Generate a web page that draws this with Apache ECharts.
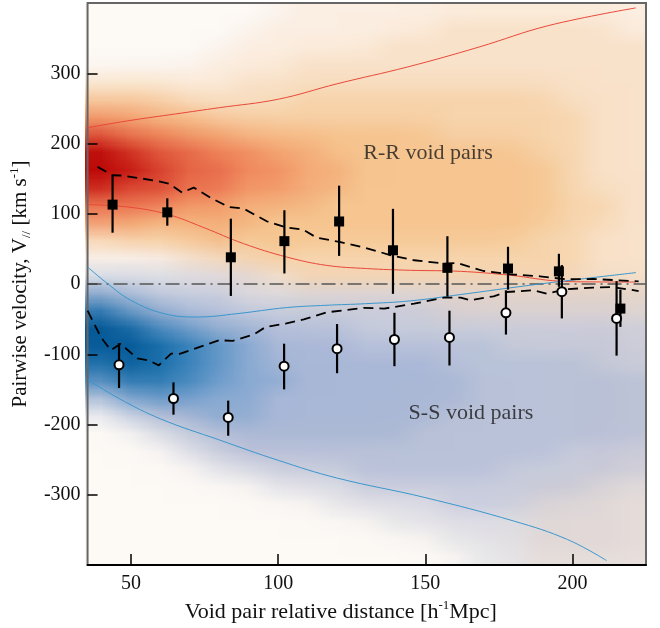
<!DOCTYPE html>
<html>
<head>
<meta charset="utf-8">
<script src="https://cdn.jsdelivr.net/npm/echarts@6/dist/echarts.min.js"></script>
<style>
  html, body { margin: 0; padding: 0; background: #fff; }
  #wrap { position: relative; width: 660px; height: 628px; }
  /* density map: one pixel per cell, scaled up so the browser smooths it */
  #heat { position: absolute; left: 85px; top: 3px; width: 19px; height: 32px;
          transform-origin: 0 0; transform: scale(29.526, 17.5625); }
  #main { position: absolute; left: 0; top: 0; width: 660px; height: 628px; }
</style>
</head>
<body>
<div id="wrap">
  <div id="heat"></div>
  <div id="main"></div>
</div>
<script>
// measured points
const rrX  = [43.7, 62.3, 83.9, 102.1, 120.7, 139.0, 157.5, 178.1, 195.4, 216.3];
const rrV  = [113, 102, 38, 61, 89, 48, 23, 22, 18, -35];
const rrLo = [73, 83, -17, 15, 40, -14, -18, -8, -4, -61];
const rrHi = [154, 122, 93, 105, 140, 107, 68, 53, 43, -8];

const ssX  = [45.9, 64.4, 83.0, 102.0, 120.0, 139.5, 158.2, 177.4, 196.4, 215.0];
const ssV  = [-115, -163, -190, -117, -92, -79, -76, -41, -11, -49];
const ssLo = [-148, -186, -216, -150, -127, -117, -116, -72, -49, -102];
const ssHi = [-84, -140, -166, -85, -57, -41, -38, -9, 27, 4];

// simulation curves
const rrMean = [[38.6,166.7],[43.7,154.8],[47.1,154.4],[58.9,146.7],[62.8,143],[67.3,130.2],[71.3,137.3],
  [76.9,123.1],[83.1,109.7],[88.2,107.4],[96.1,89.3],[102.8,80.3],[108.4,77.5],[113,66.1],[120.8,59.8],
  [129.8,51.3],[138.3,40.9],[146.2,33.8],[156.3,29.1],[160.8,29.9],[169.8,18.5],[178.8,13.8],[188.9,11],
  [197.9,6.7],[206.9,7.1],[222.5,3.8]];
const ssMean = [[35.2,-38],[39.7,-75.5],[43.1,-94.4],[46.4,-85],[52.1,-106],[56,-108.7],[59.4,-115.8],
  [63.6,-99],[66.2,-100],[80,-80],[84.5,-81],[91.8,-71.6],[95.8,-61],[102.5,-56.4],[108.7,-50.5],
  [116.6,-40.3],[129,-33.9],[136,-35],[146.2,-28],[156.3,-19.4],[162,-19.4],[165.3,-23.2],[173.2,-17.5],
  [177.7,-11.4],[186.7,-9],[191.2,-13.7],[197.9,-7.5],[206.9,-5.1],[213.7,-4.3],[222.5,-10]];
const rrUpper = [[35.2,222.5],[50,233],[65,242],[80,251],[100,263],[120,285],[144,309],[168,337],[192,368],[221.5,393]];
const rrLower = [[35.2,113],[48.8,109.7],[62.3,99.3],[74.7,80.3],[88.2,57.5],[102.8,38.5],[116.3,26.6],
  [130,22],[145,19.5],[162,18],[179,12.4],[195.7,4],[207,3],[221.6,2.8]];
const ssUpper = [[35.2,24.2],[42,0.5],[49.9,-23.2],[61.2,-42.2],[72.5,-47],[86,-42.2],[102.8,-33.6],
  [116.3,-30.3],[129.8,-28],[145,-24],[162,-15],[178.8,-5.5],[195.7,3.5],[221.6,16.2]];
const ssLower = [[35.2,-136],[45.9,-163],[60,-192],[80,-222],[100,-251],[119.8,-276],[149.9,-304],
  [180.2,-337.6],[198.3,-363.7],[211.6,-393.6]];

const xTicks = [50, 100, 150, 200];
const yTicks = [-300, -200, -100, 0, 100, 200, 300];
const notes = [[150.9, 186, 'R-R void pairs'], [165.5, -184, 'S-S void pairs']];

// density cells, level 0-9, rows from top (y=387.5) to bottom (y=-387.5)
const heatX = [40, 50, 60, 70, 80, 90, 100, 110, 120, 130, 140, 150, 160, 170, 180, 190, 200, 210, 220];
const heatY = [387.5, 362.5, 337.5, 312.5, 287.5, 262.5, 237.5, 212.5, 187.5, 162.5, 137.5, 112.5, 87.5,
  62.5, 37.5, 12.5, -12.5, -37.5, -62.5, -87.5, -112.5, -137.5, -162.5, -187.5, -212.5, -237.5, -262.5,
  -287.5, -312.5, -337.5, -362.5, -387.5];
const rrDensity = [
  '0000000111111111111',
  '0000001111112222221',
  '0000011111222222222',
  '0000111222222222222',
  '1111122222222222222',
  '3332222333333333222',
  '5544333333333333322',
  '7665544444443333322',
  '9877665544444443322',
  '9987766554444444322',
  '9887766554444444322',
  '7776655544444444332',
  '6655554444444444332',
  '3444544444444443322',
  '1112334333333333322',
  '0001122333333333322',
  '0000011222222222222',
  '0000000111112222222',
  '0000000000011111111',
  '0000000000000011111',
  '0000000000000000111',
  '0000000000000000011',
  '0000000000000000011',
  '0000000000000000011',
  '0000000000000000011',
  '0000000000000000011',
  '0000000000000000011',
  '0000000000000001111',
  '0000000000000001111',
  '0000000000000001111',
  '0000000000000001111',
  '0000000000000001111'
];
const ssDensity = [
  '0000000000000000000',
  '0000000000000000000',
  '0000000000000000000',
  '0000000000000000000',
  '0000000000000000000',
  '0000000000000000000',
  '0000000000000000000',
  '0000000000000000000',
  '0000000000000000000',
  '0000000000000000000',
  '0000000000000000000',
  '0000000000000000000',
  '0000000000000000000',
  '0000000000000000000',
  '0000000000000000000',
  '1111110000000000000',
  '4322211111111111111',
  '7543322222221111111',
  '9865443332222222222',
  '9987654443333322222',
  '8987654444443333322',
  '6887655444444333333',
  '2566554444444333333',
  '0134554444443333333',
  '0012344444433333333',
  '0001233333333333222',
  '0000112223333322222',
  '0000001112222222211',
  '0000000011112221111',
  '0000000000111111111',
  '0000000000001111111',
  '0000000000000111111'
];

const rrColors = ['#fdfaf6', '#fbefe2', '#f9e2ca', '#f7d4ae', '#f6c590', '#f4ad78', '#f18f60', '#e66848', '#d43a2a', '#bc0a0a'];
const ssColors = ['rgba(184,188,212,0)', 'rgba(184,188,212,0.2)', 'rgba(182,188,212,0.45)', 'rgba(180,188,214,0.7)',
  'rgba(170,184,214,0.9)', '#88abd2', '#5c94c6', '#3680b8', '#166ca8', '#065894'];

function toCells(rows) {
  const cells = [];
  rows.forEach(function (row, i) {
    const r = rows.length - 1 - i;
    for (let c = 0; c < row.length; c++) cells.push([c, r, +row[c]]);
  });
  return cells;
}

const heat = echarts.init(document.getElementById('heat'));
heat.setOption({
  animation: false,
  grid: { left: 0, right: 0, top: 0, bottom: 0 },
  xAxis: { type: 'category', data: heatX, show: false },
  yAxis: { type: 'category', data: heatY.slice().reverse(), show: false },
  visualMap: [
    { type: 'continuous', min: 0, max: 9, seriesIndex: 0, show: false, inRange: { color: rrColors } },
    { type: 'continuous', min: 0, max: 9, seriesIndex: 1, show: false, inRange: { color: ssColors } }
  ],
  series: [
    { type: 'heatmap', data: toCells(rrDensity) },
    { type: 'heatmap', data: toCells(ssDensity) }
  ]
});

const serif = "'Liberation Serif', 'DejaVu Serif', serif";
const ink = '#111';

function curve(data, color) {
  return { type: 'line', data: data, symbol: 'none', smooth: 0.4, z: 2,
    lineStyle: { color: color, width: 1 } };
}
function dashed(data) {
  return { type: 'line', data: data, symbol: 'none', z: 3,
    lineStyle: { color: '#000', width: 1.8, type: [10, 6] } };
}
function errBars(xs, lo, hi) {
  return {
    type: 'custom', z: 4,
    data: xs.map(function (x, i) { return [x, lo[i], hi[i]]; }),
    encode: { x: 0, y: [1, 2] },
    renderItem: function (params, api) {
      const a = api.coord([api.value(0), api.value(1)]);
      const b = api.coord([api.value(0), api.value(2)]);
      return { type: 'line', shape: { x1: a[0], y1: a[1], x2: b[0], y2: b[1] },
        style: { stroke: '#000', lineWidth: 2.2 } };
    }
  };
}

const main = echarts.init(document.getElementById('main'));
main.setOption({
  backgroundColor: 'transparent',
  animation: false,
  grid: { left: 85, right: 14, top: 3, bottom: 63, show: true, borderColor: '#666', borderWidth: 2 },
  xAxis: {
    type: 'value', min: 35.2, max: 225,
    axisLine: { show: true, onZero: false, lineStyle: { color: '#000', width: 2 } },
    axisTick: { show: true, inside: true, length: 11, customValues: xTicks, lineStyle: { color: '#000', width: 1.5 } },
    axisLabel: { customValues: xTicks, margin: 9, fontFamily: serif, fontSize: 20, color: ink },
    splitLine: { show: false },
    name: '{t|Void pair relative distance [h}{s|-1}{t|Mpc]}',
    nameLocation: 'middle', nameGap: 31,
    nameTextStyle: { padding: [0, 52, 0, 0], rich: {
      t: { fontFamily: serif, fontSize: 22, color: ink, lineHeight: 26 },
      s: { fontFamily: serif, fontSize: 13, color: ink, lineHeight: 15, verticalAlign: 'top' }
    } }
  },
  yAxis: {
    type: 'value', min: -400, max: 400, interval: 100,
    axisLine: { show: false },
    axisTick: { show: true, inside: true, length: 10, customValues: yTicks, lineStyle: { color: '#000', width: 1.5 } },
    axisLabel: { customValues: yTicks, margin: 7, fontFamily: serif, fontSize: 20, color: ink },
    splitLine: { show: false },
    name: '{t|Pairwise velocity, V}{b|//}{t| [km s}{s|-1}{t|]}',
    nameLocation: 'middle', nameGap: 42,
    nameTextStyle: { rich: {
      t: { fontFamily: serif, fontSize: 21, color: ink, lineHeight: 25 },
      b: { fontFamily: serif, fontSize: 13, color: ink, lineHeight: 15, verticalAlign: 'bottom' },
      s: { fontFamily: serif, fontSize: 13, color: ink, lineHeight: 15, verticalAlign: 'top' }
    } }
  },
  series: [
    { type: 'line', data: [[35.2, 0], [225, 0]], symbol: 'none', z: 1,
      lineStyle: { color: '#555', width: 1.3, type: [14, 5, 2, 5] } },
    curve(rrUpper, '#e8483a'),
    curve(rrLower, '#e8483a'),
    curve(ssUpper, '#3a96cc'),
    curve(ssLower, '#3a96cc'),
    dashed(rrMean),
    dashed(ssMean),
    errBars(rrX, rrLo, rrHi),
    errBars(ssX, ssLo, ssHi),
    { type: 'scatter', z: 5, symbol: 'rect', symbolSize: 10,
      data: rrX.map(function (x, i) { return [x, rrV[i]]; }),
      itemStyle: { color: '#000', opacity: 1 } },
    { type: 'scatter', z: 6, symbol: 'circle', symbolSize: 9,
      data: ssX.map(function (x, i) { return [x, ssV[i]]; }),
      itemStyle: { color: '#fff', borderColor: '#000', borderWidth: 2, opacity: 1 } },
    { type: 'scatter', z: 7, symbolSize: 0, silent: true,
      data: notes.map(function (n) { return { value: [n[0], n[1]], name: n[2] }; }),
      label: { show: true, position: 'inside', formatter: '{b}', fontFamily: serif, fontSize: 22, color: '#1a1a1a' } }
  ]
});
</script>
</body>
</html>
